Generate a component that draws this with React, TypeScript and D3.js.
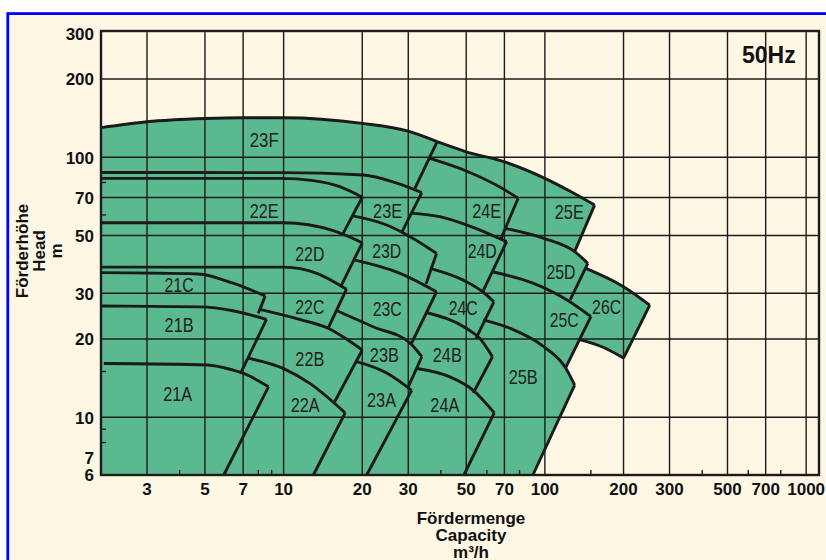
import { useEffect, useRef } from "react";
import * as d3 from "d3";

type Pt = [number, number]; // [capacity m³/h, head m]

// Axes: grid, ticks, labels
const xGrid = [3, 5, 7, 10, 20, 30, 50, 70, 100, 200, 300, 500, 700, 1000];
const xLabels = ["3", "5", "7", "10", "20", "30", "50", "70", "100", "200", "300", "500", "700", "1000"];
const xMinor = [4, 6, 8, 9, 40, 60, 80, 150, 400, 600, 800];
const yGrid = [10, 20, 30, 50, 70, 100, 200];
const yTicks = [6, 7, 10, 20, 30, 50, 70, 100, 200, 300];
const yLabels = ["6", "7", "10", "20", "30", "50", "70", "100", "200", "300"];
const yMinor = [8, 9, 15, 60, 80];

// Upper boundary (largest impeller) of each field, visible part only
const top21A: Pt[] = [[2.05, 16.1], [5.1, 15.9], [6.4, 15.2], [7.1, 14.7], [8.75, 13.1]];
const top21B: Pt[] = [[2, 26.8], [4.8, 26.6], [6.4, 25.7], [8.6, 23.8]];
const top21C: Pt[] = [[2, 36], [4.7, 35.6], [6.4, 32.8], [8.5, 29.3]];
const top22A: Pt[] = [[7.3, 16.9], [10, 15.4], [12.6, 13.5], [17.2, 10.4]];
const top22B: Pt[] = [[8.1, 26], [11.5, 23.8], [14.8, 22], [17.4, 20], [20, 18.15]];
const top22C: Pt[] = [[2, 37.8], [10, 37.8], [13.4, 35.8], [17.4, 31.1]];
const top22D: Pt[] = [[2, 56], [10, 56], [15.5, 52.2], [20, 46.9]];
const top22E: Pt[] = [[2, 83], [9.7, 83], [13, 81.3], [16.4, 77.1], [20, 70.2]];
const top23A: Pt[] = [[18.9, 16.4], [24.8, 14.8], [30.9, 12.7]];
const top23B: Pt[] = [[16, 25.7], [22, 22.3], [30.5, 19.3], [33.8, 17.1]];
const top23C: Pt[] = [[18.6, 40.3], [27.9, 35.8], [38.5, 30.4]];
const top23D: Pt[] = [[18.4, 59.5], [24.8, 54.9], [30.5, 49.5], [38.5, 42.7]];
const top23E: Pt[] = [[2, 87.4], [9.7, 87.3], [20.2, 85.5], [27.1, 79.5], [33.8, 73.1]];
const top23F: Pt[] = [[2, 130], [3, 137], [5, 141], [7, 142], [10, 142], [20, 135], [30, 126], [38.7, 114.8]];
const top24A: Pt[] = [[32.3, 15.4], [43.3, 14.3], [53.2, 12.7], [64, 10.4]];
const top24B: Pt[] = [[35.2, 25.3], [50, 22], [56.4, 20.1], [63, 17.1]];
const top24C: Pt[] = [[36.3, 37.4], [48.7, 33.7], [57.8, 30.4], [63.8, 27.8]];
const top24D: Pt[] = [[30.5, 61], [40, 59], [50, 55], [71.4, 47.4]];
const top24E: Pt[] = [[36.3, 99], [50, 88.6], [67, 77], [79, 69.6]];
const top25B: Pt[] = [[58, 23.7], [73.5, 22], [99, 18.7], [120, 15.5], [130, 13.3]];
const top25C: Pt[] = [[63, 36.3], [90, 32.8], [122, 28.2], [150, 24.4]];
const top25D: Pt[] = [[70, 53.3], [99, 48.8], [130, 43.4], [146, 39.1]];
const top25E: Pt[] = [[38.7, 114.8], [50, 105], [70, 96], [100, 83], [125, 74], [155, 65.5]];
const top26C: Pt[] = [[143.6, 37.4], [200, 31.8], [252, 27]];
const bottom26C: Pt[] = [[200, 16.9], [167, 18.6], [136, 19.9]];

// Right-hand limit of each field
const edge21A: Pt[] = [[8.75, 13.1], [5.9, 6]];
const edge21B: Pt[] = [[8.6, 23.8], [6.85, 14.8]];
const edge21C: Pt[] = [[8.5, 29.3], [8.0, 25.1]];
const edge22A: Pt[] = [[17.2, 10.4], [13, 6]];
const edge22B: Pt[] = [[20, 18.15], [15.7, 11.5]];
const edge22C: Pt[] = [[17.4, 31.1], [14.8, 22]];
const edge22D: Pt[] = [[20, 46.9], [16.6, 32]];
const edge22E: Pt[] = [[20, 70.2], [16.9, 51]];
const edge23A: Pt[] = [[30.9, 12.7], [20.8, 6]];
const edge23B: Pt[] = [[33.8, 17.1], [30, 13.1]];
const edge23C: Pt[] = [[38.5, 30.4], [30.9, 19.3]];
const edge23D: Pt[] = [[38.5, 42.7], [35.1, 32.6]];
const edge23E: Pt[] = [[33.8, 73.1], [28.3, 51.3]];
const edge23F: Pt[] = [[38.7, 114.8], [31.8, 76]];
const edge24A: Pt[] = [[64, 10.4], [49, 6]];
const edge24B: Pt[] = [[63, 17.1], [53.2, 12.4]];
const edge24C: Pt[] = [[63.8, 27.8], [54.5, 20.1]];
const edge24D: Pt[] = [[71.4, 47.4], [57.8, 30.4]];
const edge24E: Pt[] = [[79, 69.6], [68, 48.8]];
const edge25B: Pt[] = [[130, 13.3], [90, 6]];
const edge25C: Pt[] = [[150, 24.4], [120, 15.5]];
const edge25D: Pt[] = [[146, 39.1], [125, 28.3]];
const edge25E: Pt[] = [[155, 65.5], [130, 43.4]];
const edge26C: Pt[] = [[252, 27], [200, 16.9]];

// Field names and where they sit
const fieldNames = ["21A", "21B", "21C", "22A", "22B", "22C", "22D", "22E", "23A", "23B", "23C", "23D",
	"23E", "23F", "24A", "24B", "24C", "24D", "24E", "25B", "25C", "25D", "25E", "26C"];
const fieldLabelAt: Pt[] = [[3.93, 12.4], [3.98, 22.8], [3.98, 32.3], [12.1, 11.25], [12.6, 16.9], [12.6, 26.6],
	[12.6, 42.5], [8.43, 62.7], [23.7, 11.7], [24.3, 17.4], [24.9, 26.3], [24.8, 43.7], [25, 62.7], [8.43, 117.3],
	[41.4, 11.2], [42.3, 17.5], [48.7, 26.4], [57.6, 44], [59.9, 62.7], [82.6, 14.3], [118.6, 23.7], [115.2, 36.3],
	[124, 61.8], [172.3, 26.6]];

const curves = [top21A, top21B, top21C, top22A, top22B, top22C, top22D, top22E, top23A, top23B, top23C, top23D,
	top23E, top23F, top24A, top24B, top24C, top24D, top24E, top25B, top25C, top25D, top25E, top26C, bottom26C];
const edges = [edge21A, edge21B, edge21C, edge22A, edge22B, edge22C, edge22D, edge22E, edge23A, edge23B, edge23C,
	edge23D, edge23E, edge23F, edge24A, edge24B, edge24C, edge24D, edge24E, edge25B, edge25C, edge25D, edge25E, edge26C];

const GREEN = "#5bb98f";
const CREAM = "#fdf7e4";
const INK = "#1c1c1c";
const FONT = "'Liberation Sans', Arial, Helvetica, sans-serif";

export default function App() {
	const ref = useRef<SVGSVGElement>(null);

	useEffect(() => {
		const svg = d3.select(ref.current);
		svg.selectAll("*").remove();

		const plot = { left: 101, right: 819, top: 31, bottom: 475 };
		const x = d3.scaleLog().domain([2, 1120]).range([plot.left, plot.right]);
		const y = d3.scaleLog().domain([6, 306]).range([plot.bottom, plot.top]);

		const curved = d3.line<Pt>().x(d => x(d[0])).y(d => y(d[1])).curve(d3.curveMonotoneX);
		const straight = d3.line<Pt>().x(d => x(d[0])).y(d => y(d[1]));

		// page background + blue frame
		svg.append("rect").attr("width", 826).attr("height", 560).attr("fill", "#fff");
		svg.append("rect")
			.attr("x", 7.8).attr("y", 13.6).attr("width", 840).attr("height", 580)
			.attr("fill", CREAM).attr("stroke", "#0000f5").attr("stroke-width", 2.8);

		// green envelope, stitched from the outer boundary pieces
		const outline: { pts: Pt[]; bend: boolean }[] = [
			{ pts: [[2, 6], [2, 130]], bend: false },
			{ pts: top23F, bend: true },
			{ pts: top25E, bend: true },
			{ pts: edge25E, bend: false },
			{ pts: top25D.slice(2), bend: false },
			{ pts: [edge25D[0], top26C[0]], bend: false },
			{ pts: top26C, bend: true },
			{ pts: edge26C, bend: false },
			{ pts: bottom26C, bend: true },
			{ pts: [bottom26C[2], edge25C[1]], bend: false },
			{ pts: top25B.slice(3), bend: false },
			{ pts: edge25B, bend: false }
		];
		const d = outline
			.map((s, i) => {
				const p = (s.bend ? curved : straight)(s.pts) || "";
				return i === 0 ? p : "L" + p.slice(1);
			})
			.join("") + "Z";
		svg.append("path").attr("d", d).attr("fill", GREEN);

		// grid
		const grid = svg.append("g").attr("stroke", INK).attr("stroke-width", 1.4);
		grid.selectAll(".vx").data(xGrid).enter().append("line")
			.attr("x1", v => x(v)).attr("x2", v => x(v))
			.attr("y1", plot.top).attr("y2", plot.bottom);
		grid.selectAll(".hy").data(yGrid).enter().append("line")
			.attr("x1", plot.left).attr("x2", plot.right)
			.attr("y1", v => y(v)).attr("y2", v => y(v));

		// minor ticks
		grid.selectAll(".mx").data(xMinor).enter().append("line")
			.attr("x1", v => x(v)).attr("x2", v => x(v))
			.attr("y1", plot.bottom).attr("y2", plot.bottom - 5);
		grid.selectAll(".my").data(yMinor).enter().append("line")
			.attr("x1", plot.left).attr("x2", plot.left + 5)
			.attr("y1", v => y(v)).attr("y2", v => y(v));

		// field boundaries
		const lines = svg.append("g")
			.attr("fill", "none").attr("stroke", "#1a1a1a")
			.attr("stroke-width", 2.9).attr("stroke-linejoin", "round");
		curves.forEach(c => lines.append("path").attr("d", curved(c)));
		edges.forEach(e => lines.append("path").attr("d", straight(e)));

		// plot frame
		svg.append("rect")
			.attr("x", plot.left).attr("y", plot.top)
			.attr("width", plot.right - plot.left).attr("height", plot.bottom - plot.top)
			.attr("fill", "none").attr("stroke", INK).attr("stroke-width", 2.4);

		// field names
		svg.append("g").selectAll("text").data(fieldNames).enter().append("text")
			.attr("x", (_, i) => x(fieldLabelAt[i][0]))
			.attr("y", (_, i) => y(fieldLabelAt[i][1]) + 7.5)
			.attr("text-anchor", "middle")
			.attr("font-family", "'Liberation Sans Narrow', " + FONT)
			.attr("font-size", "21px")
			.attr("textLength", 29)
			.attr("lengthAdjust", "spacingAndGlyphs")
			.attr("fill", "#202020")
			.text(t => t);

		// tick labels
		const ticks = svg.append("g")
			.attr("font-family", FONT).attr("font-weight", "bold")
			.attr("font-size", "17px").attr("fill", "#111");
		ticks.selectAll(".xl").data(xGrid).enter().append("text")
			.attr("x", v => x(v)).attr("y", 495)
			.attr("text-anchor", "middle")
			.text((_, i) => xLabels[i]);
		ticks.selectAll(".yl").data(yTicks).enter().append("text")
			.attr("x", 94).attr("y", v => y(v) + 6.3)
			.attr("text-anchor", "end")
			.text((_, i) => yLabels[i]);

		// titles
		const titles = svg.append("g")
			.attr("font-family", FONT).attr("font-weight", "bold")
			.attr("font-size", "17px").attr("fill", "#111")
			.attr("text-anchor", "middle");
		const yTitle = titles.append("g").attr("transform", "rotate(-90)");
		[["Förderhöhe", 28], ["Head", 45], ["m", 62]].forEach(([t, bx]) => {
			yTitle.append("text").attr("x", -251).attr("y", bx as number).text(t as string);
		});
		[["Fördermenge", 523.5], ["Capacity", 540.5], ["m³/h", 557.5]].forEach(([t, by]) => {
			titles.append("text").attr("x", 471).attr("y", by as number).text(t as string);
		});

		svg.append("text")
			.attr("x", 742).attr("y", 63)
			.attr("font-family", FONT).attr("font-weight", "bold")
			.attr("font-size", "23px").attr("fill", "#111")
			.text("50Hz");
	}, []);

	return (
		<svg
			ref={ref}
			width={826}
			height={560}
			style={{ position: "absolute", left: 0, top: 0, display: "block" }}
		/>
	);
}
